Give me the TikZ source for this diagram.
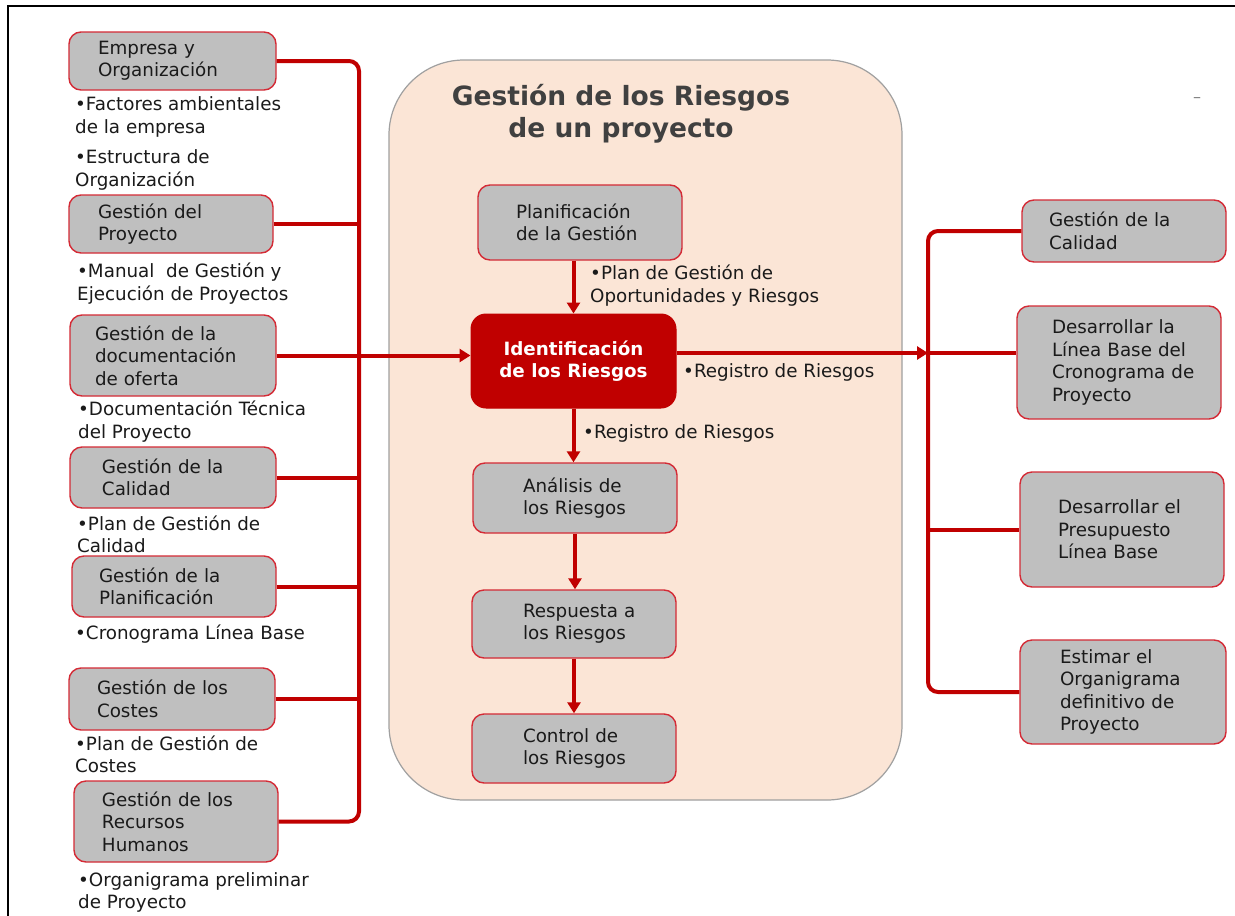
\documentclass[tikz,border=0pt]{standalone}
\usepackage{fontspec}
\setmainfont{DejaVu Sans}
\usetikzlibrary{arrows.meta,calc}
\definecolor{conred}{HTML}{C00000}
\definecolor{boxred}{HTML}{D42A35}
\definecolor{boxgray}{HTML}{BFBFBF}
\definecolor{peach}{HTML}{FBE5D6}
\definecolor{peachline}{HTML}{A0A0A0}
\definecolor{txt}{HTML}{1A1A1A}
\definecolor{titlegray}{HTML}{404040}
\begin{document}
\begin{tikzpicture}[x=1pt,y=-1pt,
  body/.style={font=\fontsize{18.3}{22.4}\selectfont, text=txt},
  pad/.style={execute at begin node={\leftskip=#1\relax}},
  gbox/.style={body, draw=boxred, line width=1.4pt, fill=boxgray,
    rounded corners=12pt, inner xsep=0pt, inner ysep=0pt, align=left},
  redbox/.style={draw=conred, line width=1pt, fill=conred, text=white,
    font=\bfseries\fontsize{18.3}{22}\selectfont, rounded corners=15pt,
    inner sep=0pt, align=center},
  panel/.style={draw=peachline, line width=1.2pt, fill=peach,
    rounded corners=75pt, inner sep=0pt},
  lab/.style={body, align=left, inner sep=0pt, anchor=west},
  conn/.style={draw=conred, line width=4pt},
  arr/.style={conn, -{Triangle[length=11pt,width=13pt]}}]
\useasboundingbox (0,0) rectangle (1235,916);
\fill[white] (0,0) rectangle (1235,916);
% frame
\draw[line width=2pt] (8,918) -- (8,6) -- (1237,6);

% central panel
\node[panel, minimum width=513pt, minimum height=740pt] (panel) at (645.5,430) {};
\node[font=\bfseries\fontsize{26.5}{32}\selectfont, text=titlegray, align=center, inner sep=0pt]
  (title) at (621,114) {Gestión de los Riesgos\\de un proyecto};

% input processes
\node[gbox, text width=207pt, minimum height=58pt, pad=29pt] (b1) at (172.5,61) {Empresa y\\Organización};
\node[gbox, text width=204pt, minimum height=58pt, pad=29pt] (b2) at (171,224) {Gestión del\\Proyecto};
\node[gbox, text width=206pt, minimum height=81pt, pad=25pt] (b3) at (173,355.5) {Gestión de la\\documentación\\de oferta};
\node[gbox, text width=206pt, minimum height=61pt, pad=32pt] (b4) at (173,477.5) {Gestión de la\\Calidad};
\node[gbox, text width=204pt, minimum height=61pt, pad=27pt] (b5) at (174,586.5) {Gestión de la\\Planificación};
\node[gbox, text width=206pt, minimum height=62pt, pad=28pt] (b6) at (172,699) {Gestión de los\\Costes};
\node[gbox, text width=204pt, minimum height=81pt, pad=28pt] (b7) at (176,821.5) {Gestión de los\\Recursos\\Humanos};

% input documents
\node[lab] (l1) at (75,117) {•Factores ambientales\\de la empresa};
\node[lab] (l2) at (75,170) {•Estructura de\\Organización};
\node[lab] (l3) at (77,283.5) {•Manual\ \ de Gestión y\\Ejecución de Proyectos};
\node[lab] (l4) at (78,421.5) {•Documentación Técnica\\del Proyecto};
\node[lab] (l5) at (77,534.5) {•Plan de Gestión de\\Calidad};
\node[lab] (l6) at (75,634.5) {•Cronograma Línea Base};
\node[lab] (l7) at (75,754.5) {•Plan de Gestión de\\Costes};
\node[lab] (l8) at (78,892.5) {•Organigrama preliminar\\de Proyecto};

% risk processes
\node[gbox, text width=204pt, minimum height=75pt, pad=38pt] (plan) at (580,222.5) {Planificación\\de la Gestión};
\node[redbox, minimum width=205pt, minimum height=94pt] (ident) at (573.5,361) {Identificación\\de los Riesgos};
\node[gbox, text width=204pt, minimum height=70pt, pad=50pt] (anal) at (575,498) {Análisis de\\los Riesgos};
\node[gbox, text width=204pt, minimum height=68pt, pad=51pt] (resp) at (574,624) {Respuesta a\\los Riesgos};
\node[gbox, text width=204pt, minimum height=69pt, pad=51pt] (ctrl) at (574,748.5) {Control de\\los Riesgos};

\node[lab] (p1) at (590,285.5) {•Plan de Gestión de\\Oportunidades y Riesgos};
\node[lab] (p2) at (683,372) {•Registro de Riesgos};
\node[lab] (p3) at (583,433) {•Registro de Riesgos};

% output processes
\node[gbox, text width=204pt, minimum height=62pt, pad=27pt] (r1) at (1124,231) {Gestión de la\\Calidad};
\node[gbox, text width=204pt, minimum height=113pt, pad=35pt] (r2) at (1119,362.5) {Desarrollar la\\Línea Base del\\Cronograma de\\Proyecto};
\node[gbox, text width=204pt, minimum height=115pt, pad=38pt] (r3) at (1122,529.5) {Desarrollar el\\Presupuesto\\Línea Base};
\node[gbox, text width=206pt, minimum height=104pt, pad=40pt] (r4) at (1123,692) {Estimar el\\Organigrama\\definitivo de\\Proyecto};

\node[text=gray, font=\fontsize{16}{16}\selectfont, inner sep=0pt] (dash) at (1197,100) {–};

% bus coordinates
\coordinate (lbx) at (359,0);
\coordinate (rbx) at (928,0);
\coordinate (rj) at (928,353);

% left bus
\draw[conn, rounded corners=10pt] (b1.east) -- (b1.east -| lbx) -- (b7.east -| lbx) -- (b7.east);
\foreach \b in {b2,b4,b5,b6} \draw[conn] (\b.east) -- (\b.east -| lbx);
\draw[arr] (b3.east) -- (b3.east -| ident.west);

% right bus
\draw[conn, rounded corners=10pt] (r1.west) -- (r1.west -| rbx) -- (r4.west -| rbx) -- (r4.west);
\draw[conn] (r3.west -| rbx) -- (r3.west);
\draw[arr] (ident.east |- rj) -- (rj);
\draw[conn] (rj) -- (r2.west |- rj);

% process chain
\draw[arr] (plan.south -| ident.north) -- (ident.north);
\draw[arr] (ident.south) -- (ident.south |- anal.north);
\draw[arr] (anal.south) -- (anal.south |- resp.north);
\draw[arr] (resp.south) -- (resp.south |- ctrl.north);
\end{tikzpicture}
\end{document}
